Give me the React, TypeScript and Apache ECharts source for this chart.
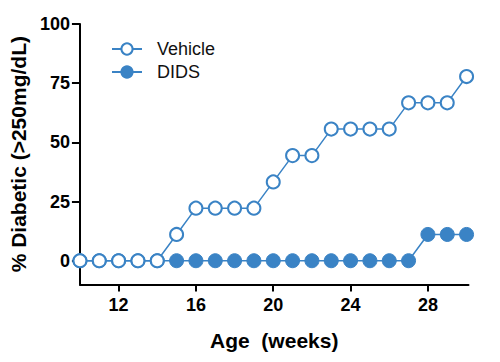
import React, { useEffect, useRef } from "react";
import * as echarts from "echarts";

const weeks = [10, 11, 12, 13, 14, 15, 16, 17, 18, 19, 20, 21, 22, 23, 24, 25, 26, 27, 28, 29, 30];
const vehicle = [0, 0, 0, 0, 0, 11.1, 22.2, 22.2, 22.2, 22.2, 33.3, 44.4, 44.4, 55.6, 55.6, 55.6, 55.6, 66.7, 66.7, 66.7, 77.8];
const dids = [0, 0, 0, 0, 0, 0, 0, 0, 0, 0, 0, 0, 0, 0, 0, 0, 0, 0, 11.1, 11.1, 11.1];
const xTicks = [12, 16, 20, 24, 28];
const yTicks = [0, 25, 50, 75, 100];

const BLUE = "#3a83c5";
const FONT = "'Liberation Sans', Arial, sans-serif";

export default function App() {
  const ref = useRef<HTMLDivElement>(null);
  useEffect(() => {
    if (!ref.current) return;
    const chart = echarts.init(ref.current, null, { renderer: "svg" });
    chart.setOption({
      animation: false,
      backgroundColor: "#fff",
      grid: { left: 77, right: 31.5, top: 24, bottom: 77.6, containLabel: false },
      legend: {
        orient: "vertical",
        left: 106,
        top: 35,
        itemWidth: 30,
        itemHeight: 14,
        itemGap: 5,
        textStyle: { fontFamily: FONT, fontSize: 18, color: "#111", padding: [0, 0, 0, 10] },
        data: ["Vehicle", "DIDS"],
      },
      xAxis: {
        type: "value",
        min: 10,
        max: 30.1,
        name: "Age  (weeks)",
        nameLocation: "middle",
        nameGap: 46,
        nameTextStyle: { fontFamily: FONT, fontSize: 21, fontWeight: "bold", color: "#000" },
        axisLine: { show: true, onZero: false, lineStyle: { color: "#000", width: 2 } },
        axisTick: { show: true, length: 7, lineStyle: { color: "#000", width: 2 }, customValues: xTicks },
        axisLabel: { margin: 12, fontFamily: FONT, fontSize: 18, fontWeight: "bold", color: "#000", customValues: xTicks },
        splitLine: { show: false },
      },
      yAxis: {
        type: "value",
        min: -10,
        max: 100,
        name: "% Diabetic (>250mg/dL)",
        nameLocation: "middle",
        nameGap: 45,
        nameTextStyle: { fontFamily: FONT, fontSize: 21, fontWeight: "bold", color: "#000" },
        axisLine: { show: true, lineStyle: { color: "#000", width: 2 } },
        axisTick: { show: true, length: 8, lineStyle: { color: "#000", width: 2 }, customValues: yTicks },
        axisLabel: { margin: 10, fontFamily: FONT, fontSize: 18, fontWeight: "bold", color: "#000", customValues: yTicks },
        splitLine: { show: false },
      },
      series: [
        {
          name: "DIDS",
          type: "line",
          data: weeks.map((w, i) => [w, dids[i]]),
          symbol: "circle",
          symbolSize: 14,
          showAllSymbol: true,
          lineStyle: { color: BLUE, width: 1.5 },
          itemStyle: { color: BLUE, borderColor: BLUE, borderWidth: 1 },
          z: 2,
        },
        {
          name: "Vehicle",
          type: "line",
          data: weeks.map((w, i) => [w, vehicle[i]]),
          symbol: "circle",
          symbolSize: 13,
          showAllSymbol: true,
          lineStyle: { color: BLUE, width: 1.5 },
          itemStyle: { color: "#fff", borderColor: BLUE, borderWidth: 2 },
          z: 3,
        },
      ],
    });
    return () => chart.dispose();
  }, []);
  return <div ref={ref} style={{ width: 500, height: 362, position: "absolute", left: 0, top: 0 }} />;
}
